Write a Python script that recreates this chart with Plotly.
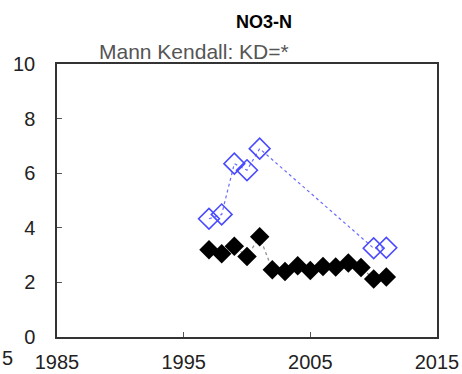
import plotly.graph_objects as go

# Sampling years and NO3-N concentrations
years_a = [1997, 1998, 1999, 2000, 2001, 2010, 2011]
no3_a = [4.33, 4.49, 6.35, 6.11, 6.90, 3.25, 3.27]

years_b = [1997, 1998, 1999, 2000, 2001, 2002, 2003, 2004, 2005, 2006,
           2007, 2008, 2009, 2010, 2011]
no3_b = [3.20, 3.05, 3.32, 2.95, 3.67, 2.46, 2.40, 2.61, 2.44, 2.58,
         2.56, 2.71, 2.55, 2.12, 2.20]

x_ticks = [1985, 1995, 2005, 2015]
y_ticks = [0, 2, 4, 6, 8, 10]

title_text = "NO3-N"
subtitle_text = "Mann Kendall: KD=*"

FONT = "Liberation Sans, Arial, sans-serif"

fig = go.Figure()

fig.add_trace(go.Scatter(
    x=years_b, y=no3_b, mode="lines+markers",
    line=dict(color="#8a8a8a", width=1.2, dash="dot"),
    marker=dict(symbol="diamond", size=15, color="black",
                line=dict(color="black", width=0)),
    showlegend=False, cliponaxis=False,
))

fig.add_trace(go.Scatter(
    x=years_a, y=no3_a, mode="lines+markers",
    line=dict(color="#6b6bff", width=1.2, dash="3px,3px"),
    marker=dict(symbol="diamond-open", size=16, color="#4a4aff",
                line=dict(color="#4a4aff", width=1.6)),
    showlegend=False, cliponaxis=False,
))

axis_common = dict(
    showgrid=False, zeroline=False, showline=True, mirror=True,
    linecolor="#333333", linewidth=1.5,
    ticks="inside", ticklen=5, tickwidth=1, tickcolor="#555555",
    tickfont=dict(family=FONT, size=20, color="#222222"),
)

fig.update_xaxes(range=[1985, 2015], tickvals=x_ticks,
                 ticktext=[str(v) for v in x_ticks],
                 ticklabelstandoff=6, **axis_common)
fig.update_yaxes(range=[0, 10], tickvals=y_ticks,
                 ticktext=[str(v) for v in y_ticks],
                 ticklabelstandoff=16, **axis_common)

fig.add_annotation(text="<b>" + title_text + "</b>", xref="paper", yref="paper",
                   x=(264 - 57) / 380, y=(337 - 23) / 272, xanchor="center",
                   yanchor="middle", showarrow=False,
                   font=dict(family=FONT, size=18, color="black"))
fig.add_annotation(text=subtitle_text, xref="paper", yref="paper",
                   x=(194 - 57) / 380, y=(337 - 53) / 272, xanchor="center",
                   yanchor="middle", showarrow=False,
                   font=dict(family=FONT, size=21, color="#555555"))
# trailing digit of the neighbouring axis label
fig.add_annotation(text="5", xref="paper", yref="paper",
                   x=(0 - 57) / 380, y=(337 - 358) / 272, xanchor="left",
                   yanchor="middle", showarrow=False,
                   font=dict(family=FONT, size=20, color="#222222"))

fig.update_layout(
    width=462, height=374,
    margin=dict(l=57, r=25, t=64, b=37, autoexpand=False),
    paper_bgcolor="white", plot_bgcolor="white",
)

fig.write_html("out.html")
